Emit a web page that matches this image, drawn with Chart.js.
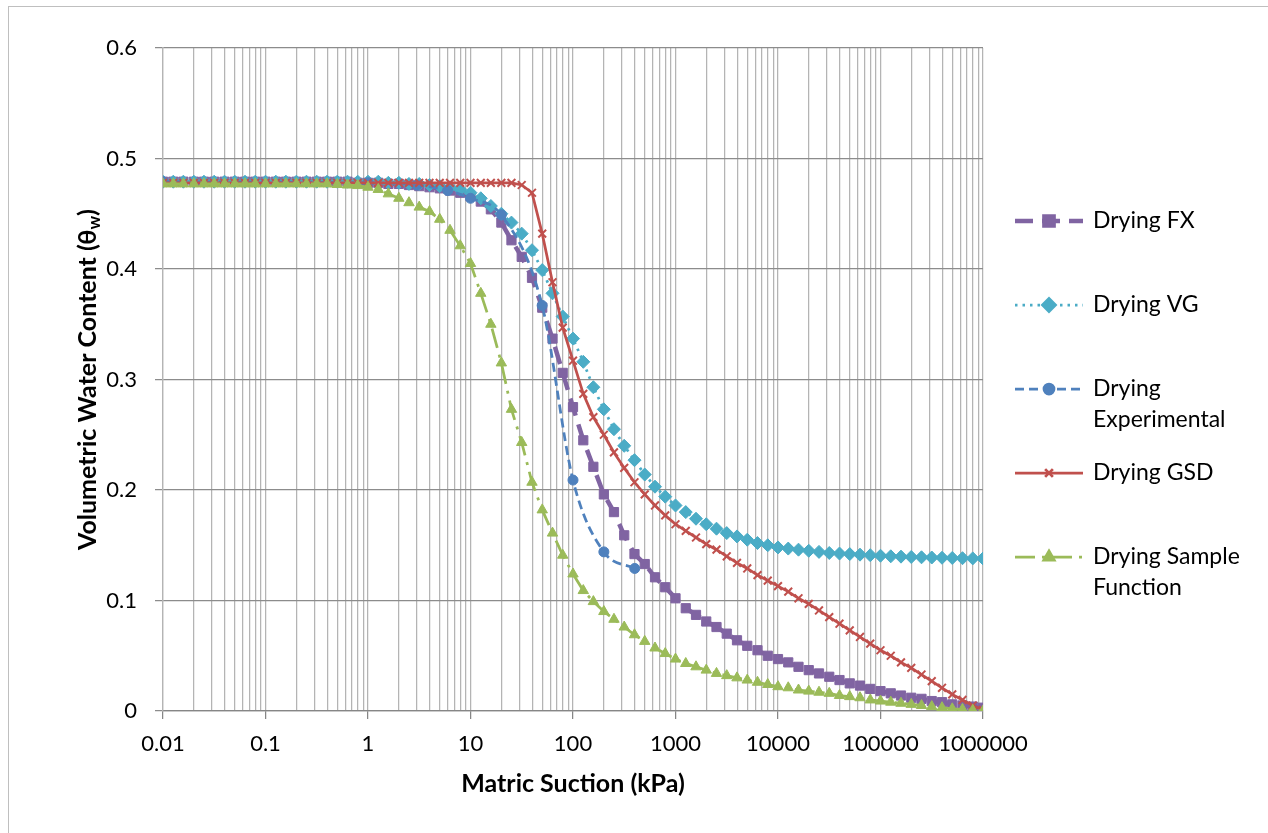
<!DOCTYPE html>
<html>
<head>
<meta charset="utf-8">
<title>Drying SWCC</title>
<script src="https://cdn.jsdelivr.net/npm/chart.js@4.4.1/dist/chart.umd.min.js"></script>
<style>
  html, body { margin: 0; padding: 0; background: #fff; }
  canvas { display: block; }
</style>
</head>
<body>
<canvas id="myChart" width="1268" height="833" style="width:1268px;height:833px"></canvas>
<script>
// suction values (kPa) used by the fitted curves
const xGrid = [
  0.01, 0.0126, 0.0158, 0.02, 0.0251, 0.0316, 0.0398, 0.0501, 0.0631, 0.0794,
  0.1, 0.126, 0.158, 0.2, 0.251, 0.316, 0.398, 0.501, 0.631, 0.794,
  1, 1.26, 1.58, 2, 2.51, 3.16, 3.98, 5.01, 6.31, 7.94,
  10, 12.6, 15.8, 20, 25.1, 31.6, 39.8, 50.1, 63.1, 79.4,
  100, 126, 158, 200, 251, 316, 398, 501, 631, 794,
  1000, 1259, 1585, 1995, 2512, 3162, 3981, 5012, 6310, 7943,
  10000, 12589, 15849, 19953, 25119, 31623, 39811, 50119, 63096, 79433,
  100000, 125893, 158489, 199526, 251189, 316228, 398107, 501187, 630957, 794328,
  1000000
];

const fxValues = [
  0.479, 0.479, 0.479, 0.479, 0.479, 0.479, 0.479, 0.479, 0.479, 0.479,
  0.479, 0.479, 0.479, 0.479, 0.479, 0.479, 0.479, 0.479, 0.479, 0.478,
  0.478, 0.478, 0.477, 0.477, 0.476, 0.475, 0.474, 0.473, 0.471, 0.469,
  0.466, 0.461, 0.454, 0.442, 0.426, 0.411, 0.392, 0.365, 0.337, 0.306,
  0.275, 0.245, 0.221, 0.196, 0.180, 0.159, 0.142, 0.133, 0.121, 0.112,
  0.102, 0.093, 0.087, 0.081, 0.076, 0.070, 0.064, 0.059, 0.055, 0.050,
  0.047, 0.044, 0.040, 0.037, 0.034, 0.031, 0.028, 0.025, 0.023, 0.020,
  0.018, 0.016, 0.014, 0.012, 0.011, 0.009, 0.008, 0.006, 0.005, 0.004,
  0.003
];

const vgValues = [
  0.479, 0.479, 0.479, 0.479, 0.479, 0.479, 0.479, 0.479, 0.479, 0.479,
  0.479, 0.479, 0.479, 0.479, 0.479, 0.479, 0.479, 0.479, 0.479, 0.479,
  0.479, 0.479, 0.478, 0.478, 0.477, 0.477, 0.476, 0.475, 0.474, 0.472,
  0.469, 0.464, 0.457, 0.450, 0.442, 0.432, 0.417, 0.399, 0.378, 0.357,
  0.337, 0.316, 0.293, 0.273, 0.255, 0.240, 0.227, 0.214, 0.203, 0.194,
  0.186, 0.180, 0.174, 0.169, 0.165, 0.161, 0.158, 0.155, 0.152, 0.150,
  0.148, 0.147, 0.146, 0.145, 0.144, 0.143, 0.1425, 0.142, 0.1415, 0.141,
  0.1405, 0.140, 0.1397, 0.1394, 0.1391, 0.1389, 0.1387, 0.1385, 0.1383, 0.1381,
  0.138
];

const gsdValues = [
  0.478, 0.478, 0.478, 0.478, 0.478, 0.478, 0.478, 0.478, 0.478, 0.478,
  0.478, 0.478, 0.478, 0.478, 0.478, 0.478, 0.478, 0.478, 0.478, 0.478,
  0.478, 0.478, 0.478, 0.478, 0.478, 0.478, 0.478, 0.478, 0.478, 0.478,
  0.478, 0.478, 0.478, 0.478, 0.478, 0.476, 0.469, 0.432, 0.388, 0.347,
  0.317, 0.287, 0.266, 0.250, 0.234, 0.220, 0.207, 0.196, 0.186, 0.177,
  0.169, 0.163, 0.157, 0.151, 0.146, 0.140, 0.134, 0.129, 0.123, 0.118,
  0.113, 0.108, 0.102, 0.097, 0.091, 0.085, 0.079, 0.073, 0.067, 0.061,
  0.055, 0.050, 0.044, 0.039, 0.033, 0.027, 0.021, 0.015, 0.010, 0.005,
  0.001
];

const sampleValues = [
  0.477, 0.477, 0.477, 0.477, 0.477, 0.477, 0.477, 0.477, 0.477, 0.477,
  0.477, 0.477, 0.477, 0.477, 0.477, 0.477, 0.477, 0.4765, 0.476, 0.4755,
  0.474, 0.472, 0.468, 0.464, 0.460, 0.456, 0.452, 0.445, 0.435, 0.421,
  0.405, 0.378, 0.350, 0.315, 0.273, 0.243, 0.207, 0.182, 0.161, 0.141,
  0.124, 0.109, 0.099, 0.090, 0.083, 0.076, 0.069, 0.063, 0.057, 0.052,
  0.047, 0.043, 0.040, 0.037, 0.034, 0.032, 0.030, 0.028, 0.026, 0.024,
  0.022, 0.021, 0.019, 0.018, 0.017, 0.016, 0.014, 0.013, 0.012, 0.010,
  0.009, 0.008, 0.007, 0.006, 0.005, 0.004, 0.003, 0.002, 0.0015, 0.0007,
  0
];

// measured points
const expSuction = [0.01, 1, 3, 6, 10, 20, 50, 100, 200, 400];
const expValues = [0.479, 0.478, 0.476, 0.471, 0.464, 0.449, 0.367, 0.209, 0.144, 0.129];

const seriesNames = ['Drying FX', 'Drying VG', 'Drying Experimental', 'Drying GSD', 'Drying Sample Function'];
const legendLines = [['Drying FX'], ['Drying VG'], ['Drying', 'Experimental'], ['Drying GSD'], ['Drying Sample', 'Function']];

const xDecades = [0.01, 0.1, 1, 10, 100, 1000, 10000, 100000, 1000000];
const xTickLabels = ['0.01', '0.1', '1', '10', '100', '1000', '10000', '100000', '1000000'];
const yTickValues = [0, 0.1, 0.2, 0.3, 0.4, 0.5, 0.6];
const yTickLabels = ['0', '0.1', '0.2', '0.3', '0.4', '0.5', '0.6'];

const xTitle = 'Matric Suction (kPa)';
const yTitleParts = ['Volumetric Water Content (\u03B8', 'w', ')'];

const FONT = 'Lato';

function pairs(xs, ys) {
    return xs.map((x, i) => ({ x: x, y: ys[i] }));
}

// gridlines at 1..9 x each decade
const xGridTicks = [];
xDecades.forEach((d, i) => {
    const last = i === xDecades.length - 1;
    for (let m = 1; m <= (last ? 1 : 9); m++) {
        xGridTicks.push(+(d * m).toPrecision(6));
    }
});

const decorPlugin = {
    id: 'decor',
    beforeDraw(chart) {
        const c = chart.ctx;
        c.save();
        c.fillStyle = '#fff';
        c.fillRect(0, 0, chart.width, chart.height);
        c.strokeStyle = '#bfbfbf';
        c.lineWidth = 1;
        c.strokeRect(8.5, 6.5, 1400, 1000);
        c.restore();
    },
    afterDraw(chart) {
        const c = chart.ctx;
        const area = chart.chartArea;
        c.save();
        c.fillStyle = '#000';

        // x title
        c.font = 'bold 25px ' + FONT;
        c.textAlign = 'center';
        c.textBaseline = 'middle';
        c.fillText(xTitle, (area.left + area.right) / 2, 784);

        // y title with subscript
        c.save();
        c.translate(88, (area.top + area.bottom) / 2);
        c.rotate(-Math.PI / 2);
        c.textAlign = 'left';
        c.font = 'bold 25px ' + FONT;
        const w0 = c.measureText(yTitleParts[0]).width;
        const w2 = c.measureText(yTitleParts[2]).width;
        c.font = 'bold 17px ' + FONT;
        const w1 = c.measureText(yTitleParts[1]).width;
        let tx = -(w0 + w1 + w2) / 2;
        c.font = 'bold 25px ' + FONT;
        c.fillText(yTitleParts[0], tx, 0);
        tx += w0;
        c.font = 'bold 17px ' + FONT;
        c.fillText(yTitleParts[1], tx, 7);
        tx += w1;
        c.font = 'bold 25px ' + FONT;
        c.fillText(yTitleParts[2], tx, 0);
        c.restore();

        // legend
        chart.data.datasets.forEach((ds, i) => {
            const y = 221 + i * 84;
            c.save();
            c.strokeStyle = ds.borderColor;
            c.lineWidth = ds.borderWidth;
            c.setLineDash(ds.borderDash || []);
            c.beginPath();
            c.moveTo(1015, y);
            c.lineTo(1083, y);
            c.stroke();
            c.setLineDash([]);
            c.fillStyle = ds.backgroundColor;
            c.strokeStyle = ds.borderColor;
            Chart.helpers.drawPoint(c, {
                pointStyle: ds.pointStyle,
                radius: ds.pointRadius,
                borderWidth: ds.pointBorderWidth,
                rotation: 0
            }, 1049, y);
            c.restore();

            c.font = '23px ' + FONT;
            c.textAlign = 'left';
            c.textBaseline = 'middle';
            legendLines[i].forEach((line, j) => {
                c.fillText(line, 1093, y + j * 31);
            });
        });
        c.restore();
    }
};

let ctx = document.getElementById('myChart').getContext('2d');

new Chart(ctx, {
    type: 'line',
    data: {
        datasets: [{
            label: seriesNames[0],
            data: pairs(xGrid, fxValues),
            borderColor: '#8064A2',
            backgroundColor: '#8064A2',
            borderWidth: 4.5,
            borderDash: [18, 9],
            pointStyle: 'rect',
            pointRadius: 6.5,
            pointBorderWidth: 1,
            order: 5
        }, {
            label: seriesNames[1],
            data: pairs(xGrid, vgValues),
            borderColor: '#4BACC6',
            backgroundColor: '#4BACC6',
            borderWidth: 2.75,
            borderDash: [2.5, 5],
            pointStyle: 'rectRot',
            pointRadius: 6.5,
            pointBorderWidth: 1,
            order: 4
        }, {
            label: seriesNames[2],
            data: pairs(expSuction, expValues),
            borderColor: '#4F81BD',
            backgroundColor: '#4F81BD',
            borderWidth: 2.75,
            borderDash: [9, 5],
            pointStyle: 'circle',
            pointRadius: 5,
            pointBorderWidth: 1,
            cubicInterpolationMode: 'monotone',
            order: 3
        }, {
            label: seriesNames[3],
            data: pairs(xGrid, gsdValues),
            borderColor: '#C0504D',
            backgroundColor: '#C0504D',
            borderWidth: 2.75,
            borderDash: [],
            pointStyle: 'crossRot',
            pointRadius: 5.5,
            pointBorderWidth: 2,
            order: 2
        }, {
            label: seriesNames[4],
            data: pairs(xGrid, sampleValues),
            borderColor: '#9BBB59',
            backgroundColor: '#9BBB59',
            borderWidth: 2.75,
            borderDash: [20, 7, 3, 7],
            pointStyle: 'triangle',
            pointRadius: 6,
            pointBorderWidth: 1,
            order: 1
        }]
    },
    options: {
        responsive: false,
        animation: false,
        devicePixelRatio: 1,
        layout: {
            padding: { left: 0, top: 48, right: 285, bottom: 0 }
        },
        plugins: {
            legend: { display: false },
            tooltip: { enabled: false }
        },
        scales: {
            x: {
                type: 'logarithmic',
                min: 0.01,
                max: 1000000,
                afterBuildTicks: (scale) => {
                    scale.ticks = xGridTicks.map(v => ({ value: v }));
                },
                afterFit: (scale) => { scale.height = 122; },
                ticks: {
                    autoSkip: false,
                    maxRotation: 0,
                    padding: 12,
                    color: '#000',
                    font: { family: FONT, size: 22 },
                    callback: (value) => {
                        const i = xDecades.indexOf(value);
                        return i >= 0 ? xTickLabels[i] : '';
                    }
                },
                grid: {
                    color: '#b4b4b4',
                    lineWidth: 1.25,
                    tickLength: 8,
                    tickColor: (c) => (c.tick && xDecades.indexOf(c.tick.value) >= 0) ? '#868686' : 'rgba(0,0,0,0)'
                },
                border: { color: '#868686', width: 1.25 }
            },
            y: {
                min: 0,
                max: 0.6,
                afterBuildTicks: (scale) => {
                    scale.ticks = yTickValues.map(v => ({ value: v }));
                },
                afterFit: (scale) => { scale.width = 163; },
                ticks: {
                    padding: 18,
                    color: '#000',
                    font: { family: FONT, size: 22 },
                    callback: (value, index) => yTickLabels[index]
                },
                grid: {
                    color: '#8c8c8c',
                    lineWidth: 1.25,
                    tickLength: 8,
                    tickColor: '#8c8c8c'
                },
                border: { color: '#b4b4b4', width: 1.25 }
            }
        }
    },
    plugins: [decorPlugin]
});
</script>
</body>
</html>
